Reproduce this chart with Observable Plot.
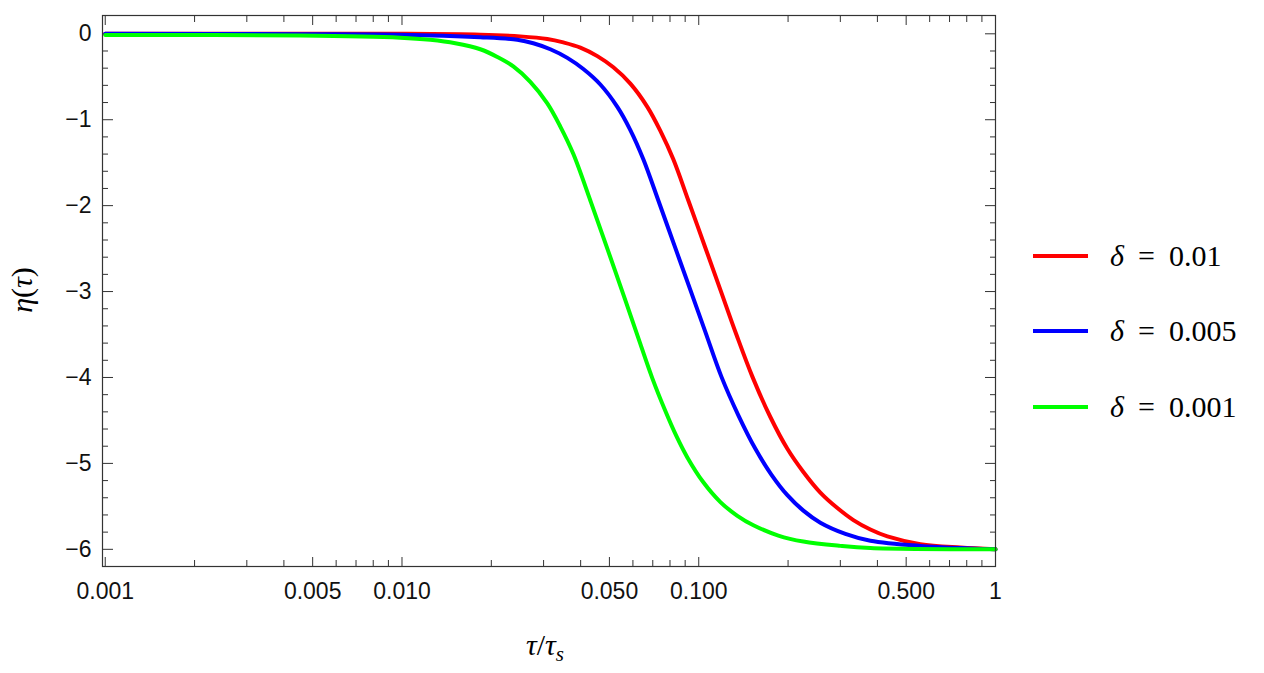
<!DOCTYPE html>
<html>
<head>
<meta charset="utf-8">
<script src="https://cdn.jsdelivr.net/npm/d3@7"></script>
<script src="https://cdn.jsdelivr.net/npm/@observablehq/plot@0.6"></script>
<style>
  body { margin: 0; background: #fff; }
  #wrap { position: relative; width: 1264px; height: 673px; overflow: hidden; }
  #wrap svg { position: absolute; left: 0; top: 0; }
  .serif { font-family: "Liberation Serif", "DejaVu Serif", serif; color: #000; }
  #ytitle { position: absolute; left: 22px; top: 290px; transform: translate(-50%, -50%) rotate(-90deg); font-size: 30px; white-space: nowrap; }
  #xtitle { position: absolute; left: 545px; top: 647px; transform: translate(-50%, -50%); font-size: 30px; white-space: nowrap; }
  #xtitle sub { font-size: 21px; vertical-align: -6px; }
  .leg { position: absolute; left: 1033px; height: 40px; display: flex; align-items: center; transform: translateY(-50%); }
  .leg .sw { width: 55px; height: 4px; margin-right: 22px; }
  .leg .txt { font-size: 30px; white-space: nowrap; }
  .leg .eq { margin: 0 14px; }
</style>
</head>
<body>
<div id="wrap"></div>
<script>
// ---- data ----
const tauRed = [0.001, 0.004544, 0.009869, 0.01836, 0.02504, 0.03088, 0.03497, 0.03991, 0.04553, 0.05155, 0.05882, 0.0671, 0.07425, 0.08209, 0.09225, 0.10525, 0.1183, 0.13389, 0.1516, 0.17428, 0.1989, 0.2252, 0.2569, 0.29318, 0.332, 0.3788, 0.4322, 0.5582, 0.7614, 1];
const etaRed = [0, 0, 0, -0.01, -0.03, -0.06, -0.10, -0.16, -0.26, -0.39, -0.58, -0.85, -1.13, -1.46, -1.94, -2.49, -2.98, -3.50, -3.99, -4.46, -4.83, -5.10, -5.34, -5.52, -5.66, -5.77, -5.85, -5.94, -5.98, -6.0];

const tauBlue = [0.001, 0.004544, 0.009869, 0.01836, 0.024468, 0.0277, 0.03161, 0.036067, 0.040839, 0.046599, 0.05317, 0.058819, 0.06505, 0.07309, 0.082734, 0.09369, 0.10525, 0.1192, 0.13599, 0.15518, 0.17564, 0.1989, 0.2252, 0.2569, 0.31197, 0.3788, 0.5582, 1];
const etaBlue = [0, -0.005, -0.01, -0.04, -0.07, -0.11, -0.18, -0.28, -0.41, -0.59, -0.85, -1.12, -1.46, -1.94, -2.46, -2.98, -3.47, -3.99, -4.44, -4.83, -5.13, -5.37, -5.55, -5.69, -5.82, -5.90, -5.96, -6.0];

const tauGreen = [0.001, 0.004544, 0.009869, 0.012455, 0.015126, 0.01836, 0.020954, 0.02372, 0.027063, 0.03088, 0.034163, 0.0378, 0.04312, 0.049197, 0.05656, 0.06356, 0.06977, 0.077186, 0.084029, 0.09154, 0.10364, 0.1183, 0.13494, 0.1528, 0.18545, 0.2252, 0.30008, 0.3788, 1];
const etaGreen = [-0.015, -0.02, -0.045, -0.07, -0.11, -0.18, -0.27, -0.38, -0.56, -0.81, -1.08, -1.40, -1.94, -2.50, -3.10, -3.61, -4.01, -4.39, -4.68, -4.93, -5.22, -5.45, -5.61, -5.72, -5.84, -5.91, -5.96, -5.985, -6.0];

const seriesValues = ["0.01", "0.005", "0.001"];
const seriesColors = ["#ff0000", "#0000ff", "#00ff00"];

const xMajor = [0.001, 0.005, 0.01, 0.05, 0.1, 0.5, 1];
const xLabels = ["0.001", "0.005", "0.010", "0.050", "0.100", "0.500", "1"];
const xMinor = [0.002, 0.003, 0.004, 0.006, 0.007, 0.008, 0.009,
                0.02, 0.03, 0.04, 0.06, 0.07, 0.08, 0.09,
                0.2, 0.3, 0.4, 0.6, 0.7, 0.8, 0.9];
const yMajor = [0, -1, -2, -3, -4, -5, -6];
const yLabels = ["0", "\u22121", "\u22122", "\u22123", "\u22124", "\u22125", "\u22126"];
const yMinor = d3.range(-29, 1).map(i => i * 0.2).filter(v => Math.abs(v - Math.round(v)) > 1e-6);

// ---- build ----
const toRows = (xs, ys) => xs.map((t, i) => ({tau: t, eta: ys[i]}));
const rowsAll = [toRows(tauRed, etaRed), toRows(tauBlue, etaBlue), toRows(tauGreen, etaGreen)];

const tickStroke = "#333";
const marks = [];
for (const anchor of ["bottom", "top"]) {
  marks.push(Plot.axisX({anchor, ticks: xMajor, tickSize: -9, tickFormat: () => "", label: null, stroke: tickStroke}));
  marks.push(Plot.axisX({anchor, ticks: xMinor, tickSize: -6, tickFormat: () => "", label: null, stroke: tickStroke}));
}
for (const anchor of ["left", "right"]) {
  marks.push(Plot.axisY({anchor, ticks: yMajor, tickSize: -11, tickFormat: () => "", label: null, stroke: tickStroke}));
  marks.push(Plot.axisY({anchor, ticks: yMinor, tickSize: -6, tickFormat: () => "", label: null, stroke: tickStroke}));
}
marks.push(Plot.text(xMajor, {x: d => d, text: (d, i) => xLabels[i], frameAnchor: "bottom", lineAnchor: "top", dy: 16, fill: "#111"}));
marks.push(Plot.text(yMajor, {y: d => d, text: (d, i) => yLabels[i], frameAnchor: "left", textAnchor: "end", dx: -11, fill: "#111"}));
rowsAll.forEach((rows, i) => {
  marks.push(Plot.line(rows, {x: "tau", y: "eta", stroke: seriesColors[i], strokeWidth: 4, curve: "catmull-rom"}));
});
marks.push(Plot.frame({stroke: "#333", strokeWidth: 1.2}));

const chart = Plot.plot({
  width: 1264,
  height: 673,
  marginLeft: 102,
  marginRight: 269,
  marginTop: 15,
  marginBottom: 107,
  x: {type: "log", domain: [0.000979, 1]},
  y: {domain: [-6.2, 0.213]},
  style: {fontFamily: "'Liberation Sans', Arial, sans-serif", fontSize: "23px", background: "white", color: "#111", overflow: "visible"},
  marks
});

const wrap = document.getElementById("wrap");
wrap.appendChild(chart);

const yt = document.createElement("div");
yt.id = "ytitle"; yt.className = "serif";
yt.innerHTML = "<i>\u03b7</i>(<i>\u03c4</i>)";
wrap.appendChild(yt);

const xt = document.createElement("div");
xt.id = "xtitle"; xt.className = "serif";
xt.innerHTML = "<i>\u03c4</i>/<i>\u03c4</i><sub><i>s</i></sub>";
wrap.appendChild(xt);

const legTops = [256, 331, 407];
seriesValues.forEach((v, i) => {
  const d = document.createElement("div");
  d.className = "leg";
  d.style.top = legTops[i] + "px";
  d.innerHTML = `<div class="sw" style="background:${seriesColors[i]}"></div><div class="txt serif"><i>\u03b4</i><span class="eq">=</span>${v}</div>`;
  wrap.appendChild(d);
});
</script>
</body>
</html>
